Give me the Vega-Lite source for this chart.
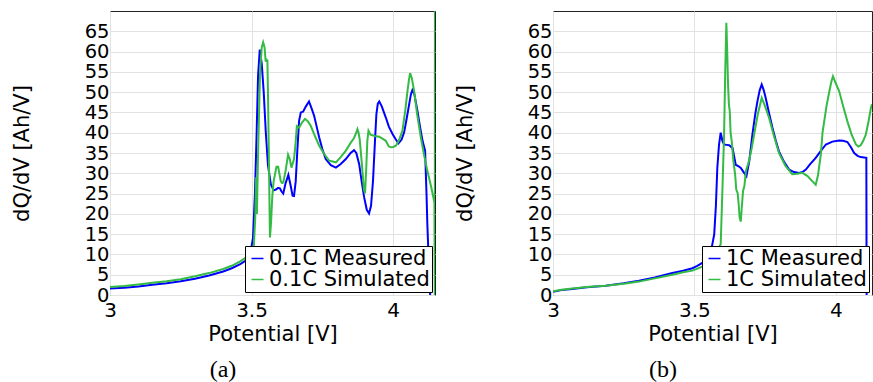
{
  "$schema": "https://vega.github.io/schema/vega-lite/v6.json",
  "padding": {"left": 10, "top": 10, "right": 0, "bottom": 4},
  "bounds": "flush",
  "spacing": 118,
  "background": "white",
  "config": {
    "view": {"stroke": "#222", "strokeWidth": 1},
    "axis": {"labelFont": "DejaVu Sans", "labelFontSize": 20, "labelColor": "#000", "titleFont": "DejaVu Sans", "titleFontSize": 21, "titleFontWeight": "normal", "titleColor": "#000", "ticks": false, "domain": false, "gridColor": "#e2e2e2", "gridWidth": 1, "labelOverlap": false, "labelFlush": false},
    "axisX": {"labelPadding": 5, "titleY": 45, "titleBaseline": "alphabetic"},
    "axisY": {"labelPadding": 1, "labelFontSize": 19.5, "titleX": -82, "titleY": 142, "titleAngle": 270, "titleBaseline": "alphabetic", "titleAlign": "center"},
    "legend": {"orient": "bottom-right", "offset": 3, "strokeColor": "#000", "fillColor": "#fff", "padding": 2, "labelFont": "DejaVu Sans", "labelFontSize": 21, "labelColor": "#000", "labelLimit": 400, "symbolType": "stroke", "symbolSize": 144, "symbolStrokeWidth": 1.5, "labelOffset": 1, "rowPadding": -3, "cornerRadius": 0}
  },
  "datasets": {
    "a": [
      {"series": "0.1C Measured", "V": 3.00, "dQdV": 1.6},
      {"series": "0.1C Measured", "V": 3.05, "dQdV": 1.8},
      {"series": "0.1C Measured", "V": 3.10, "dQdV": 2.1},
      {"series": "0.1C Measured", "V": 3.15, "dQdV": 2.5},
      {"series": "0.1C Measured", "V": 3.20, "dQdV": 2.9},
      {"series": "0.1C Measured", "V": 3.25, "dQdV": 3.4},
      {"series": "0.1C Measured", "V": 3.30, "dQdV": 4.0},
      {"series": "0.1C Measured", "V": 3.35, "dQdV": 4.8},
      {"series": "0.1C Measured", "V": 3.40, "dQdV": 5.8},
      {"series": "0.1C Measured", "V": 3.43, "dQdV": 6.6},
      {"series": "0.1C Measured", "V": 3.46, "dQdV": 7.6},
      {"series": "0.1C Measured", "V": 3.48, "dQdV": 8.5},
      {"series": "0.1C Measured", "V": 3.495, "dQdV": 10},
      {"series": "0.1C Measured", "V": 3.505, "dQdV": 14},
      {"series": "0.1C Measured", "V": 3.512, "dQdV": 25},
      {"series": "0.1C Measured", "V": 3.518, "dQdV": 40},
      {"series": "0.1C Measured", "V": 3.523, "dQdV": 54},
      {"series": "0.1C Measured", "V": 3.529, "dQdV": 60.5},
      {"series": "0.1C Measured", "V": 3.536, "dQdV": 57},
      {"series": "0.1C Measured", "V": 3.543, "dQdV": 50},
      {"series": "0.1C Measured", "V": 3.550, "dQdV": 40.5},
      {"series": "0.1C Measured", "V": 3.558, "dQdV": 32},
      {"series": "0.1C Measured", "V": 3.568, "dQdV": 27.3},
      {"series": "0.1C Measured", "V": 3.578, "dQdV": 25.8},
      {"series": "0.1C Measured", "V": 3.586, "dQdV": 26},
      {"series": "0.1C Measured", "V": 3.594, "dQdV": 26.4},
      {"series": "0.1C Measured", "V": 3.600, "dQdV": 26.3},
      {"series": "0.1C Measured", "V": 3.606, "dQdV": 25.5},
      {"series": "0.1C Measured", "V": 3.612, "dQdV": 25.0},
      {"series": "0.1C Measured", "V": 3.620, "dQdV": 27.5},
      {"series": "0.1C Measured", "V": 3.630, "dQdV": 29.6},
      {"series": "0.1C Measured", "V": 3.638, "dQdV": 27},
      {"series": "0.1C Measured", "V": 3.645, "dQdV": 24.5},
      {"series": "0.1C Measured", "V": 3.650, "dQdV": 24.4},
      {"series": "0.1C Measured", "V": 3.656, "dQdV": 28},
      {"series": "0.1C Measured", "V": 3.662, "dQdV": 36},
      {"series": "0.1C Measured", "V": 3.668, "dQdV": 43},
      {"series": "0.1C Measured", "V": 3.674, "dQdV": 45},
      {"series": "0.1C Measured", "V": 3.682, "dQdV": 45.2},
      {"series": "0.1C Measured", "V": 3.692, "dQdV": 46.5},
      {"series": "0.1C Measured", "V": 3.703, "dQdV": 47.7},
      {"series": "0.1C Measured", "V": 3.712, "dQdV": 46},
      {"series": "0.1C Measured", "V": 3.721, "dQdV": 44.2},
      {"series": "0.1C Measured", "V": 3.730, "dQdV": 41.5},
      {"series": "0.1C Measured", "V": 3.739, "dQdV": 38.8},
      {"series": "0.1C Measured", "V": 3.750, "dQdV": 36},
      {"series": "0.1C Measured", "V": 3.762, "dQdV": 33.5},
      {"series": "0.1C Measured", "V": 3.780, "dQdV": 32},
      {"series": "0.1C Measured", "V": 3.798, "dQdV": 31.4},
      {"series": "0.1C Measured", "V": 3.815, "dQdV": 32.3},
      {"series": "0.1C Measured", "V": 3.833, "dQdV": 33.5},
      {"series": "0.1C Measured", "V": 3.850, "dQdV": 35},
      {"series": "0.1C Measured", "V": 3.862, "dQdV": 35.7},
      {"series": "0.1C Measured", "V": 3.870, "dQdV": 35},
      {"series": "0.1C Measured", "V": 3.880, "dQdV": 32.3},
      {"series": "0.1C Measured", "V": 3.890, "dQdV": 27.5},
      {"series": "0.1C Measured", "V": 3.898, "dQdV": 24.0},
      {"series": "0.1C Measured", "V": 3.907, "dQdV": 21},
      {"series": "0.1C Measured", "V": 3.915, "dQdV": 20.1},
      {"series": "0.1C Measured", "V": 3.922, "dQdV": 22},
      {"series": "0.1C Measured", "V": 3.929, "dQdV": 28.1},
      {"series": "0.1C Measured", "V": 3.936, "dQdV": 38},
      {"series": "0.1C Measured", "V": 3.941, "dQdV": 44.6},
      {"series": "0.1C Measured", "V": 3.946, "dQdV": 47.2},
      {"series": "0.1C Measured", "V": 3.951, "dQdV": 47.7},
      {"series": "0.1C Measured", "V": 3.960, "dQdV": 46.5},
      {"series": "0.1C Measured", "V": 3.974, "dQdV": 43.8},
      {"series": "0.1C Measured", "V": 3.985, "dQdV": 41.5},
      {"series": "0.1C Measured", "V": 3.998, "dQdV": 39.7},
      {"series": "0.1C Measured", "V": 4.008, "dQdV": 38.5},
      {"series": "0.1C Measured", "V": 4.019, "dQdV": 37.4},
      {"series": "0.1C Measured", "V": 4.030, "dQdV": 38.3},
      {"series": "0.1C Measured", "V": 4.039, "dQdV": 40.1},
      {"series": "0.1C Measured", "V": 4.048, "dQdV": 43.5},
      {"series": "0.1C Measured", "V": 4.057, "dQdV": 47.1},
      {"series": "0.1C Measured", "V": 4.063, "dQdV": 49.5},
      {"series": "0.1C Measured", "V": 4.068, "dQdV": 50.5},
      {"series": "0.1C Measured", "V": 4.075, "dQdV": 49.5},
      {"series": "0.1C Measured", "V": 4.086, "dQdV": 45.4},
      {"series": "0.1C Measured", "V": 4.095, "dQdV": 41.5},
      {"series": "0.1C Measured", "V": 4.104, "dQdV": 38.0},
      {"series": "0.1C Measured", "V": 4.113, "dQdV": 35.6},
      {"series": "0.1C Measured", "V": 4.118, "dQdV": 25},
      {"series": "0.1C Measured", "V": 4.121, "dQdV": 17.4},
      {"series": "0.1C Measured", "V": 4.126, "dQdV": 8},
      {"series": "0.1C Measured", "V": 4.131, "dQdV": 0},
      {"series": "0.1C Measured", "V": 4.135, "dQdV": -5},
      {"series": "0.1C Simulated", "V": 3.00, "dQdV": 2.0},
      {"series": "0.1C Simulated", "V": 3.05, "dQdV": 2.2},
      {"series": "0.1C Simulated", "V": 3.10, "dQdV": 2.6},
      {"series": "0.1C Simulated", "V": 3.15, "dQdV": 3.0},
      {"series": "0.1C Simulated", "V": 3.20, "dQdV": 3.4},
      {"series": "0.1C Simulated", "V": 3.25, "dQdV": 3.9},
      {"series": "0.1C Simulated", "V": 3.30, "dQdV": 4.6},
      {"series": "0.1C Simulated", "V": 3.35, "dQdV": 5.4},
      {"series": "0.1C Simulated", "V": 3.40, "dQdV": 6.4},
      {"series": "0.1C Simulated", "V": 3.43, "dQdV": 7.2},
      {"series": "0.1C Simulated", "V": 3.46, "dQdV": 8.3},
      {"series": "0.1C Simulated", "V": 3.48, "dQdV": 9.2},
      {"series": "0.1C Simulated", "V": 3.50, "dQdV": 10.5},
      {"series": "0.1C Simulated", "V": 3.508, "dQdV": 12},
      {"series": "0.1C Simulated", "V": 3.513, "dQdV": 19},
      {"series": "0.1C Simulated", "V": 3.516, "dQdV": 29},
      {"series": "0.1C Simulated", "V": 3.519, "dQdV": 20},
      {"series": "0.1C Simulated", "V": 3.523, "dQdV": 35},
      {"series": "0.1C Simulated", "V": 3.530, "dQdV": 55},
      {"series": "0.1C Simulated", "V": 3.536, "dQdV": 61},
      {"series": "0.1C Simulated", "V": 3.541, "dQdV": 62.3},
      {"series": "0.1C Simulated", "V": 3.546, "dQdV": 61},
      {"series": "0.1C Simulated", "V": 3.550, "dQdV": 57.5},
      {"series": "0.1C Simulated", "V": 3.553, "dQdV": 58},
      {"series": "0.1C Simulated", "V": 3.556, "dQdV": 57.8},
      {"series": "0.1C Simulated", "V": 3.558, "dQdV": 50},
      {"series": "0.1C Simulated", "V": 3.561, "dQdV": 35},
      {"series": "0.1C Simulated", "V": 3.565, "dQdV": 14.2},
      {"series": "0.1C Simulated", "V": 3.569, "dQdV": 18},
      {"series": "0.1C Simulated", "V": 3.573, "dQdV": 24.0},
      {"series": "0.1C Simulated", "V": 3.578, "dQdV": 28},
      {"series": "0.1C Simulated", "V": 3.583, "dQdV": 29.8},
      {"series": "0.1C Simulated", "V": 3.588, "dQdV": 31.6},
      {"series": "0.1C Simulated", "V": 3.594, "dQdV": 31.6},
      {"series": "0.1C Simulated", "V": 3.598, "dQdV": 30},
      {"series": "0.1C Simulated", "V": 3.603, "dQdV": 28.1},
      {"series": "0.1C Simulated", "V": 3.608, "dQdV": 27.6},
      {"series": "0.1C Simulated", "V": 3.612, "dQdV": 27.7},
      {"series": "0.1C Simulated", "V": 3.620, "dQdV": 30.5},
      {"series": "0.1C Simulated", "V": 3.629, "dQdV": 34.6},
      {"series": "0.1C Simulated", "V": 3.635, "dQdV": 33.5},
      {"series": "0.1C Simulated", "V": 3.641, "dQdV": 31.4},
      {"series": "0.1C Simulated", "V": 3.650, "dQdV": 33.5},
      {"series": "0.1C Simulated", "V": 3.655, "dQdV": 37},
      {"series": "0.1C Simulated", "V": 3.660, "dQdV": 41.6},
      {"series": "0.1C Simulated", "V": 3.668, "dQdV": 41.2},
      {"series": "0.1C Simulated", "V": 3.678, "dQdV": 42.5},
      {"series": "0.1C Simulated", "V": 3.689, "dQdV": 43.4},
      {"series": "0.1C Simulated", "V": 3.699, "dQdV": 42.8},
      {"series": "0.1C Simulated", "V": 3.709, "dQdV": 41.7},
      {"series": "0.1C Simulated", "V": 3.725, "dQdV": 39},
      {"series": "0.1C Simulated", "V": 3.739, "dQdV": 36.8},
      {"series": "0.1C Simulated", "V": 3.756, "dQdV": 34.8},
      {"series": "0.1C Simulated", "V": 3.774, "dQdV": 33.1},
      {"series": "0.1C Simulated", "V": 3.798, "dQdV": 32.7},
      {"series": "0.1C Simulated", "V": 3.815, "dQdV": 34},
      {"series": "0.1C Simulated", "V": 3.833, "dQdV": 35.6},
      {"series": "0.1C Simulated", "V": 3.850, "dQdV": 37.5},
      {"series": "0.1C Simulated", "V": 3.862, "dQdV": 38.7},
      {"series": "0.1C Simulated", "V": 3.870, "dQdV": 40},
      {"series": "0.1C Simulated", "V": 3.874, "dQdV": 40.9},
      {"series": "0.1C Simulated", "V": 3.878, "dQdV": 40},
      {"series": "0.1C Simulated", "V": 3.882, "dQdV": 38.4},
      {"series": "0.1C Simulated", "V": 3.890, "dQdV": 32},
      {"series": "0.1C Simulated", "V": 3.897, "dQdV": 26},
      {"series": "0.1C Simulated", "V": 3.901, "dQdV": 25.1},
      {"series": "0.1C Simulated", "V": 3.905, "dQdV": 31},
      {"series": "0.1C Simulated", "V": 3.909, "dQdV": 38},
      {"series": "0.1C Simulated", "V": 3.913, "dQdV": 40.5},
      {"series": "0.1C Simulated", "V": 3.920, "dQdV": 39.5},
      {"series": "0.1C Simulated", "V": 3.935, "dQdV": 39.2},
      {"series": "0.1C Simulated", "V": 3.951, "dQdV": 39.0},
      {"series": "0.1C Simulated", "V": 3.965, "dQdV": 38.4},
      {"series": "0.1C Simulated", "V": 3.974, "dQdV": 38.0},
      {"series": "0.1C Simulated", "V": 3.985, "dQdV": 36.6},
      {"series": "0.1C Simulated", "V": 3.992, "dQdV": 36.4},
      {"series": "0.1C Simulated", "V": 4.000, "dQdV": 36.5},
      {"series": "0.1C Simulated", "V": 4.010, "dQdV": 36.8},
      {"series": "0.1C Simulated", "V": 4.020, "dQdV": 38},
      {"series": "0.1C Simulated", "V": 4.033, "dQdV": 40.5},
      {"series": "0.1C Simulated", "V": 4.043, "dQdV": 45.5},
      {"series": "0.1C Simulated", "V": 4.051, "dQdV": 50.4},
      {"series": "0.1C Simulated", "V": 4.056, "dQdV": 53},
      {"series": "0.1C Simulated", "V": 4.060, "dQdV": 54.7},
      {"series": "0.1C Simulated", "V": 4.066, "dQdV": 53.5},
      {"series": "0.1C Simulated", "V": 4.074, "dQdV": 50.4},
      {"series": "0.1C Simulated", "V": 4.085, "dQdV": 44.5},
      {"series": "0.1C Simulated", "V": 4.098, "dQdV": 38.8},
      {"series": "0.1C Simulated", "V": 4.110, "dQdV": 34.3},
      {"series": "0.1C Simulated", "V": 4.121, "dQdV": 30.6},
      {"series": "0.1C Simulated", "V": 4.135, "dQdV": 26.5},
      {"series": "0.1C Simulated", "V": 4.146, "dQdV": 22.8},
      {"series": "0.1C Simulated", "V": 4.1474, "dQdV": -3},
      {"series": "0.1C Simulated", "V": 4.1478, "dQdV": 80}
    ],
    "b": [
      {"series": "1C Measured", "V": 3.00, "dQdV": 0.8},
      {"series": "1C Measured", "V": 3.03, "dQdV": 1.2},
      {"series": "1C Measured", "V": 3.068, "dQdV": 1.5},
      {"series": "1C Measured", "V": 3.12, "dQdV": 1.9},
      {"series": "1C Measured", "V": 3.186, "dQdV": 2.3},
      {"series": "1C Measured", "V": 3.25, "dQdV": 2.9},
      {"series": "1C Measured", "V": 3.304, "dQdV": 3.5},
      {"series": "1C Measured", "V": 3.36, "dQdV": 4.3},
      {"series": "1C Measured", "V": 3.422, "dQdV": 5.4},
      {"series": "1C Measured", "V": 3.46, "dQdV": 6.0},
      {"series": "1C Measured", "V": 3.493, "dQdV": 6.6},
      {"series": "1C Measured", "V": 3.51, "dQdV": 7.2},
      {"series": "1C Measured", "V": 3.528, "dQdV": 7.9},
      {"series": "1C Measured", "V": 3.542, "dQdV": 8.8},
      {"series": "1C Measured", "V": 3.552, "dQdV": 9.9},
      {"series": "1C Measured", "V": 3.562, "dQdV": 12},
      {"series": "1C Measured", "V": 3.570, "dQdV": 14.9},
      {"series": "1C Measured", "V": 3.576, "dQdV": 22},
      {"series": "1C Measured", "V": 3.581, "dQdV": 31.3},
      {"series": "1C Measured", "V": 3.587, "dQdV": 37},
      {"series": "1C Measured", "V": 3.593, "dQdV": 40.0},
      {"series": "1C Measured", "V": 3.599, "dQdV": 38},
      {"series": "1C Measured", "V": 3.605, "dQdV": 37.1},
      {"series": "1C Measured", "V": 3.614, "dQdV": 37},
      {"series": "1C Measured", "V": 3.623, "dQdV": 36.9},
      {"series": "1C Measured", "V": 3.635, "dQdV": 36.2},
      {"series": "1C Measured", "V": 3.646, "dQdV": 32.1},
      {"series": "1C Measured", "V": 3.655, "dQdV": 31.8},
      {"series": "1C Measured", "V": 3.664, "dQdV": 31.3},
      {"series": "1C Measured", "V": 3.674, "dQdV": 30.3},
      {"series": "1C Measured", "V": 3.684, "dQdV": 29.3},
      {"series": "1C Measured", "V": 3.694, "dQdV": 33},
      {"series": "1C Measured", "V": 3.705, "dQdV": 39.5},
      {"series": "1C Measured", "V": 3.715, "dQdV": 44.5},
      {"series": "1C Measured", "V": 3.723, "dQdV": 47.8},
      {"series": "1C Measured", "V": 3.731, "dQdV": 50.5},
      {"series": "1C Measured", "V": 3.738, "dQdV": 51.9},
      {"series": "1C Measured", "V": 3.745, "dQdV": 50.5},
      {"series": "1C Measured", "V": 3.752, "dQdV": 48.6},
      {"series": "1C Measured", "V": 3.764, "dQdV": 44.8},
      {"series": "1C Measured", "V": 3.776, "dQdV": 41.2},
      {"series": "1C Measured", "V": 3.788, "dQdV": 38},
      {"series": "1C Measured", "V": 3.799, "dQdV": 35.4},
      {"series": "1C Measured", "V": 3.817, "dQdV": 32.8},
      {"series": "1C Measured", "V": 3.835, "dQdV": 30.9},
      {"series": "1C Measured", "V": 3.852, "dQdV": 30.3},
      {"series": "1C Measured", "V": 3.870, "dQdV": 30.1},
      {"series": "1C Measured", "V": 3.882, "dQdV": 30.3},
      {"series": "1C Measured", "V": 3.894, "dQdV": 30.9},
      {"series": "1C Measured", "V": 3.910, "dQdV": 32.3},
      {"series": "1C Measured", "V": 3.929, "dQdV": 33.8},
      {"series": "1C Measured", "V": 3.947, "dQdV": 35.5},
      {"series": "1C Measured", "V": 3.965, "dQdV": 37.1},
      {"series": "1C Measured", "V": 3.988, "dQdV": 37.8},
      {"series": "1C Measured", "V": 4.012, "dQdV": 38.1},
      {"series": "1C Measured", "V": 4.026, "dQdV": 38},
      {"series": "1C Measured", "V": 4.041, "dQdV": 37.7},
      {"series": "1C Measured", "V": 4.053, "dQdV": 36.5},
      {"series": "1C Measured", "V": 4.065, "dQdV": 35.0},
      {"series": "1C Measured", "V": 4.077, "dQdV": 34.3},
      {"series": "1C Measured", "V": 4.088, "dQdV": 34.0},
      {"series": "1C Measured", "V": 4.100, "dQdV": 33.9},
      {"series": "1C Measured", "V": 4.108, "dQdV": 33.8},
      {"series": "1C Measured", "V": 4.109, "dQdV": 0},
      {"series": "1C Measured", "V": 4.110, "dQdV": -5},
      {"series": "1C Simulated", "V": 3.00, "dQdV": 0.9},
      {"series": "1C Simulated", "V": 3.03, "dQdV": 1.3},
      {"series": "1C Simulated", "V": 3.068, "dQdV": 1.6},
      {"series": "1C Simulated", "V": 3.12, "dQdV": 2.0},
      {"series": "1C Simulated", "V": 3.186, "dQdV": 2.3},
      {"series": "1C Simulated", "V": 3.25, "dQdV": 2.8},
      {"series": "1C Simulated", "V": 3.304, "dQdV": 3.3},
      {"series": "1C Simulated", "V": 3.36, "dQdV": 4.1},
      {"series": "1C Simulated", "V": 3.422, "dQdV": 5.0},
      {"series": "1C Simulated", "V": 3.46, "dQdV": 5.6},
      {"series": "1C Simulated", "V": 3.493, "dQdV": 6.0},
      {"series": "1C Simulated", "V": 3.528, "dQdV": 7.0},
      {"series": "1C Simulated", "V": 3.555, "dQdV": 8.5},
      {"series": "1C Simulated", "V": 3.575, "dQdV": 10},
      {"series": "1C Simulated", "V": 3.585, "dQdV": 11.5},
      {"series": "1C Simulated", "V": 3.593, "dQdV": 12.5},
      {"series": "1C Simulated", "V": 3.600, "dQdV": 28},
      {"series": "1C Simulated", "V": 3.605, "dQdV": 39.6},
      {"series": "1C Simulated", "V": 3.609, "dQdV": 55},
      {"series": "1C Simulated", "V": 3.613, "dQdV": 67.1},
      {"series": "1C Simulated", "V": 3.616, "dQdV": 60},
      {"series": "1C Simulated", "V": 3.619, "dQdV": 51.9},
      {"series": "1C Simulated", "V": 3.622, "dQdV": 47},
      {"series": "1C Simulated", "V": 3.625, "dQdV": 45.3},
      {"series": "1C Simulated", "V": 3.628, "dQdV": 40},
      {"series": "1C Simulated", "V": 3.632, "dQdV": 37.9},
      {"series": "1C Simulated", "V": 3.638, "dQdV": 33},
      {"series": "1C Simulated", "V": 3.644, "dQdV": 29.7},
      {"series": "1C Simulated", "V": 3.648, "dQdV": 26},
      {"series": "1C Simulated", "V": 3.653, "dQdV": 25.1},
      {"series": "1C Simulated", "V": 3.657, "dQdV": 22},
      {"series": "1C Simulated", "V": 3.660, "dQdV": 19},
      {"series": "1C Simulated", "V": 3.664, "dQdV": 18.1},
      {"series": "1C Simulated", "V": 3.668, "dQdV": 22},
      {"series": "1C Simulated", "V": 3.672, "dQdV": 25.6},
      {"series": "1C Simulated", "V": 3.677, "dQdV": 27},
      {"series": "1C Simulated", "V": 3.682, "dQdV": 30.5},
      {"series": "1C Simulated", "V": 3.693, "dQdV": 33.0},
      {"series": "1C Simulated", "V": 3.702, "dQdV": 36},
      {"series": "1C Simulated", "V": 3.711, "dQdV": 39.5},
      {"series": "1C Simulated", "V": 3.724, "dQdV": 44.5},
      {"series": "1C Simulated", "V": 3.738, "dQdV": 48.6},
      {"series": "1C Simulated", "V": 3.750, "dQdV": 46.5},
      {"series": "1C Simulated", "V": 3.764, "dQdV": 43.7},
      {"series": "1C Simulated", "V": 3.780, "dQdV": 39.5},
      {"series": "1C Simulated", "V": 3.799, "dQdV": 35.0},
      {"series": "1C Simulated", "V": 3.822, "dQdV": 31.8},
      {"series": "1C Simulated", "V": 3.846, "dQdV": 29.8},
      {"series": "1C Simulated", "V": 3.864, "dQdV": 29.9},
      {"series": "1C Simulated", "V": 3.882, "dQdV": 30.1},
      {"series": "1C Simulated", "V": 3.900, "dQdV": 29.3},
      {"series": "1C Simulated", "V": 3.915, "dQdV": 28.2},
      {"series": "1C Simulated", "V": 3.929, "dQdV": 27.2},
      {"series": "1C Simulated", "V": 3.937, "dQdV": 29.5},
      {"series": "1C Simulated", "V": 3.947, "dQdV": 34.6},
      {"series": "1C Simulated", "V": 3.953, "dQdV": 40},
      {"series": "1C Simulated", "V": 3.959, "dQdV": 42.8},
      {"series": "1C Simulated", "V": 3.967, "dQdV": 46.5},
      {"series": "1C Simulated", "V": 3.976, "dQdV": 49.8},
      {"series": "1C Simulated", "V": 3.984, "dQdV": 52.5},
      {"series": "1C Simulated", "V": 3.990, "dQdV": 53.9},
      {"series": "1C Simulated", "V": 3.998, "dQdV": 52.5},
      {"series": "1C Simulated", "V": 4.012, "dQdV": 50.2},
      {"series": "1C Simulated", "V": 4.026, "dQdV": 46.5},
      {"series": "1C Simulated", "V": 4.041, "dQdV": 42.8},
      {"series": "1C Simulated", "V": 4.056, "dQdV": 39.5},
      {"series": "1C Simulated", "V": 4.071, "dQdV": 37.1},
      {"series": "1C Simulated", "V": 4.080, "dQdV": 36.6},
      {"series": "1C Simulated", "V": 4.088, "dQdV": 36.9},
      {"series": "1C Simulated", "V": 4.097, "dQdV": 38},
      {"series": "1C Simulated", "V": 4.106, "dQdV": 39.5},
      {"series": "1C Simulated", "V": 4.115, "dQdV": 42.5},
      {"series": "1C Simulated", "V": 4.124, "dQdV": 46.1},
      {"series": "1C Simulated", "V": 4.128, "dQdV": 47}
    ]
  },
  "hconcat": [
    {
      "width": 325,
      "height": 284,
      "data": {"name": "a"},
      "title": {"text": "(a)", "orient": "bottom", "anchor": "middle", "frame": "bounds", "font": "Liberation Serif", "fontSize": 24, "fontWeight": "normal", "color": "#000", "offset": 14},
      "mark": {"type": "line", "clip": true, "strokeWidth": 2},
      "encoding": {
        "x": {"field": "V", "type": "quantitative", "scale": {"domain": [3, 4.148], "nice": false, "zero": false}, "axis": {"values": [3, 3.5, 4], "format": "~g", "title": "Potential [V]"}},
        "y": {"field": "dQdV", "type": "quantitative", "scale": {"domain": [0, 70], "nice": false}, "axis": {"values": [0, 5, 10, 15, 20, 25, 30, 35, 40, 45, 50, 55, 60, 65], "title": "dQ/dV [Ah/V]"}},
        "color": {"field": "series", "type": "nominal", "scale": {"domain": ["0.1C Measured", "0.1C Simulated"], "range": ["#0000ff", "#33bb44"]}, "legend": {"title": null}}
      }
    },
    {
      "width": 319,
      "height": 284,
      "data": {"name": "b"},
      "title": {"text": "(b)", "orient": "bottom", "anchor": "middle", "frame": "bounds", "font": "Liberation Serif", "fontSize": 24, "fontWeight": "normal", "color": "#000", "offset": 14},
      "mark": {"type": "line", "clip": true, "strokeWidth": 2},
      "encoding": {
        "x": {"field": "V", "type": "quantitative", "scale": {"domain": [3, 4.128], "nice": false, "zero": false}, "axis": {"values": [3, 3.5, 4], "format": "~g", "title": "Potential [V]"}},
        "y": {"field": "dQdV", "type": "quantitative", "scale": {"domain": [0, 70], "nice": false}, "axis": {"values": [0, 5, 10, 15, 20, 25, 30, 35, 40, 45, 50, 55, 60, 65], "title": "dQ/dV [Ah/V]"}},
        "color": {"field": "series", "type": "nominal", "scale": {"domain": ["1C Measured", "1C Simulated"], "range": ["#0000ff", "#33bb44"]}, "legend": {"title": null}}
      }
    }
  ],
  "resolve": {"scale": {"color": "independent"}, "legend": {"color": "independent"}}
}
